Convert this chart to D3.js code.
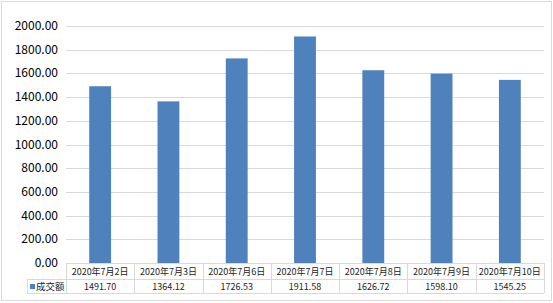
<!DOCTYPE html>
<html>
<head>
<meta charset="utf-8">
<script src="https://cdn.jsdelivr.net/npm/d3@7"></script>
<style>
  body { margin: 0; background: #fff; }
  text { font-family: "Noto Sans CJK SC", "DejaVu Sans", sans-serif; }
</style>
</head>
<body>
<div id="chart"></div>
<script>
const width = 553, height = 303;

// data
const dates = ["2020年7月2日", "2020年7月3日", "2020年7月6日", "2020年7月7日", "2020年7月8日", "2020年7月9日", "2020年7月10日"];
const amounts = [1491.70, 1364.12, 1726.53, 1911.58, 1626.72, 1598.10, 1545.25];
const yTicks = [0, 200, 400, 600, 800, 1000, 1200, 1400, 1600, 1800, 2000];
const seriesName = "成交额";

const plotLeft = 66, plotRight = 544, plotTop = 26, plotBottom = 263;
const row1 = 279, row2 = 293, tableLeft = 27;
const gridColor = "#d9d9d9", barColor = "#4f81bd";

var svg = d3.select("#chart")
  .append("svg")
  .attr("width", width)
  .attr("height", height);

// outer border
svg.append("rect")
  .attr("x", 1.5).attr("y", 1.5)
  .attr("width", 550).attr("height", 299)
  .attr("fill", "none")
  .attr("stroke", gridColor);

var x = d3.scaleBand()
  .domain(dates)
  .range([plotLeft, plotRight])
  .paddingInner(0)
  .paddingOuter(0);

var y = d3.scaleLinear()
  .domain([0, 2000])
  .range([plotBottom, plotTop]);

// grid lines
svg.append("g")
  .selectAll("line")
  .data(yTicks)
  .enter().append("line")
  .attr("x1", plotLeft).attr("x2", plotRight)
  .attr("y1", d => Math.round(y(d)) + 0.5)
  .attr("y2", d => Math.round(y(d)) + 0.5)
  .attr("stroke", gridColor);

// y labels
const fmt = d3.format(".2f");
svg.append("g")
  .selectAll("text")
  .data(yTicks)
  .enter().append("text")
  .attr("x", 58)
  .attr("y", d => y(d) + 4)
  .attr("text-anchor", "end")
  .attr("font-size", 12)
  .attr("fill", "#000")
  .text(d => fmt(d));

// bars
const bw = x.bandwidth() * 0.32;
svg.append("g")
  .selectAll("rect")
  .data(amounts)
  .enter().append("rect")
  .attr("x", (d, i) => x(dates[i]) + x.bandwidth() / 2 - bw / 2)
  .attr("y", d => y(d))
  .attr("width", bw)
  .attr("height", d => plotBottom - y(d))
  .attr("fill", barColor);

// data table
const table = svg.append("g").attr("stroke", gridColor).attr("shape-rendering", "crispEdges");
table.append("line").attr("x1", tableLeft).attr("x2", plotRight).attr("y1", row1 + 0.5).attr("y2", row1 + 0.5);
table.append("line").attr("x1", tableLeft).attr("x2", plotRight).attr("y1", row2 + 0.5).attr("y2", row2 + 0.5);
table.append("line").attr("x1", tableLeft + 0.5).attr("x2", tableLeft + 0.5).attr("y1", row1).attr("y2", row2);
table.selectAll(".col")
  .data(dates.concat(["end"]))
  .enter().append("line")
  .attr("class", "col")
  .attr("x1", (d, i) => Math.round(plotLeft + i * x.bandwidth()) + 0.5)
  .attr("x2", (d, i) => Math.round(plotLeft + i * x.bandwidth()) + 0.5)
  .attr("y1", plotBottom)
  .attr("y2", row2);

svg.append("g")
  .selectAll("text")
  .data(dates)
  .enter().append("text")
  .attr("x", d => x(d) + x.bandwidth() / 2)
  .attr("y", (plotBottom + row1) / 2 + 3.5)
  .attr("text-anchor", "middle")
  .attr("font-size", 9)
  .attr("fill", "#222")
  .text(d => d);

svg.append("g")
  .selectAll("text")
  .data(amounts)
  .enter().append("text")
  .attr("x", (d, i) => x(dates[i]) + x.bandwidth() / 2)
  .attr("y", (row1 + row2) / 2 + 3.5)
  .attr("text-anchor", "middle")
  .attr("font-size", 9)
  .attr("fill", "#222")
  .text(d => fmt(d));

// legend key
svg.append("rect")
  .attr("x", 30).attr("y", 284)
  .attr("width", 5).attr("height", 5)
  .attr("fill", barColor);
svg.append("text")
  .attr("x", 36)
  .attr("y", (row1 + row2) / 2 + 3.5)
  .attr("font-size", 9.5)
  .attr("fill", "#222")
  .text(seriesName);
</script>
</body>
</html>
